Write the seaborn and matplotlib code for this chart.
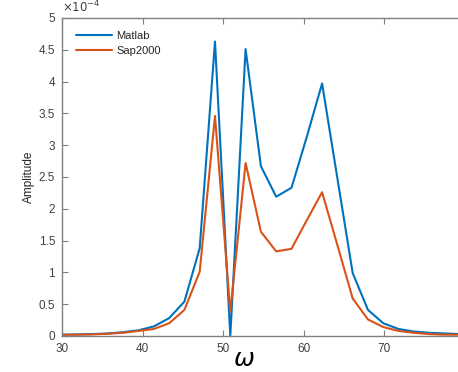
import matplotlib
matplotlib.use("Agg")
import matplotlib.pyplot as plt
import seaborn as sns
import pandas as pd
from matplotlib.ticker import FuncFormatter

# frequency points (omega)
omega = [30.0, 31.9, 33.8, 35.7, 37.6, 39.5, 41.4, 43.3, 45.2, 47.1,
         49.0, 50.9, 52.8, 54.7, 56.6, 58.5, 60.4, 62.3, 64.2, 66.1,
         68.0, 69.9, 71.8, 73.7, 75.6, 77.5, 79.4]

# amplitudes in units of 1e-4
matlab = [0.02, 0.025, 0.03, 0.04, 0.06, 0.09, 0.15, 0.28, 0.54, 1.38,
          4.63, 0.0, 4.51, 2.67, 2.19, 2.33, 3.13, 3.97, 2.48, 0.99,
          0.41, 0.20, 0.11, 0.07, 0.05, 0.04, 0.03]
sap2000 = [0.02, 0.02, 0.025, 0.035, 0.05, 0.08, 0.11, 0.20, 0.41, 1.01,
           3.46, 0.38, 2.72, 1.64, 1.33, 1.37, 1.82, 2.26, 1.43, 0.59,
           0.26, 0.14, 0.08, 0.05, 0.03, 0.02, 0.02]

x_ticks = [30, 40, 50, 60, 70]
y_ticks = [0, 0.5, 1, 1.5, 2, 2.5, 3, 3.5, 4, 4.5, 5]

df = pd.DataFrame({"omega": omega, "Matlab": matlab, "Sap2000": sap2000})
long_df = df.melt(id_vars="omega", var_name="series", value_name="amp")

sns.set_style("white")
plt.rcParams["font.family"] = ["Liberation Sans", "DejaVu Sans"]

fig = plt.figure(figsize=(4.58, 3.72), dpi=100)
# axes run out to omega=80, just past the right edge of the picture
ax = fig.add_axes([0.1354, 0.0968, 0.879, 0.855])

sns.lineplot(data=long_df, x="omega", y="amp", hue="series",
             palette={"Matlab": "#0072BD", "Sap2000": "#D95319"},
             linewidth=1.5, ax=ax)

ax.set_xlim(30, 80)
ax.set_ylim(0, 5)
ax.set_xticks(x_ticks)
ax.set_yticks(y_ticks)
ax.yaxis.set_major_formatter(FuncFormatter(lambda v, p: f"{v:g}"))

gray = "#808080"
for side in ["left", "bottom", "top", "right"]:
    ax.spines[side].set_color(gray)
    ax.spines[side].set_linewidth(1.0)
ax.tick_params(direction="in", length=4, width=0.8, color=gray,
               labelsize=8.5, labelcolor="#404040", top=True, right=True,
               left=True, bottom=True, pad=5)

ax.text(0.0, 1.008, r"$\times10^{-4}$", transform=ax.transAxes,
        fontsize=8.5, color="#404040", ha="left", va="bottom")

ax.set_ylabel("Amplitude", fontsize=8.5, color="#262626")
ax.yaxis.set_label_coords(-0.068, 0.5)
ax.set_xlabel(r"$\omega$", fontsize=18, color="black")
ax.xaxis.set_label_coords(0.452, -0.035)

ax.legend(loc="upper left", frameon=False, fontsize=8,
          handlelength=3.2, handletextpad=0.4, labelspacing=0.45,
          bbox_to_anchor=(0.01, 0.99))

fig.savefig("out.png", dpi=100)
